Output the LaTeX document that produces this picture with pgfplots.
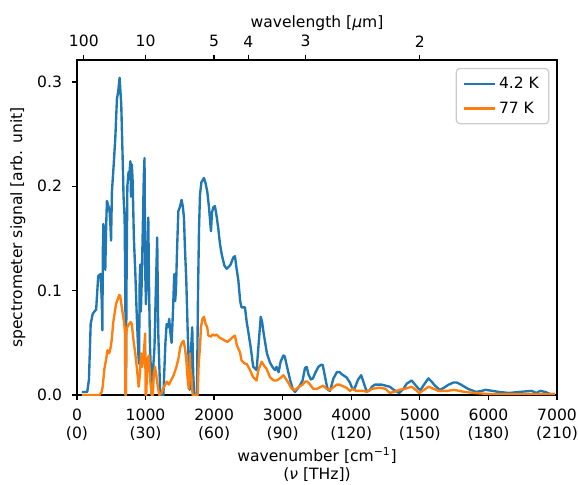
\documentclass[border=0pt]{standalone}
\usepackage{fontspec}
\setmainfont{DejaVu Sans}
\usepackage{pgfplots}
\pgfplotsset{compat=1.18}
\definecolor{c0}{HTML}{1F77B4}
\definecolor{c1}{HTML}{FF7F0E}
\definecolor{legframe}{HTML}{CCCCCC}

\begin{document}
\fontsize{11.2}{13.4}\selectfont
\begin{tikzpicture}
\begin{axis}[
  width=345.6pt, height=241.2pt, scale only axis,
  xmin=0, xmax=7000, ymin=0, ymax=0.321,
  xtick={0,1000,2000,3000,4000,5000,6000,7000},
  xticklabels={0\\(0),1000\\(30),2000\\(60),3000\\(90),4000\\(120),5000\\(150),6000\\(180),7000\\(210)},
  ticklabel style={font=\fontsize{11.2}{13}\selectfont},
  xticklabel style={align=center, yshift=-2pt},
  ytick={0,0.1,0.2,0.3}, yticklabels={0.0,0.1,0.2,0.3},
  yticklabel style={xshift=-3pt},
  xtick pos=bottom, ytick pos=left,
  tick align=outside, major tick length=3.9pt,
  every tick/.style={black, line width=0.9pt},
  axis line style={line width=0.9pt},
  minor tick num=0,
  xlabel={wavenumber [cm\textsuperscript{−1}]\\(\textit{ν} [THz])},
  every axis x label/.style={at={(axis description cs:0.5,-0.208)}, anchor=center,
    align=center, font=\fontsize{11.2}{13.2}\selectfont},
  ylabel={spectrometer signal [arb. unit]},
  every axis y label/.style={at={(axis description cs:-0.123,0.5)}, anchor=center, rotate=90,
    font=\fontsize{11.2}{13.4}\selectfont},
  legend cell align=left,
  legend style={at={(1,1)}, anchor=north east, xshift=-5.6pt, yshift=-5.6pt,
    draw=legframe, rounded corners=2.5pt, line width=0.9pt,
    font=\fontsize{11.2}{13.4}\selectfont, inner xsep=5pt, inner ysep=4pt,
    row sep=4pt},
  legend image code/.code={\draw[#1, line width=1.7pt] (0pt,0pt) -- (22pt,0pt);},
]
\coordinate (sw) at (rel axis cs:0,0);
\coordinate (ne) at (rel axis cs:1,1);
\addplot[c0, line width=1.7pt, line join=round] coordinates {
(70,0.003)(150,0.003)(175,0.015)(200,0.068)(230,0.078)(280,0.082)(310,0.114)(345,0.116)
(362,0.09)(370,0.062)(378,0.14)(385,0.164)(400,0.15)(413,0.12)(425,0.16)(437,0.186)
(455,0.182)(476,0.176)(490,0.16)(497,0.148)(510,0.195)(535,0.22)(559,0.246)(583,0.284)
(600,0.29)(622,0.304)(646,0.278)(665,0.23)(680,0.189)(695,0.17)(705,0.10)(714,0.0)
(722,0.10)(735,0.20)(753,0.214)(762,0.208)(778,0.224)(788,0.19)(800,0.221)(812,0.205)
(830,0.15)(850,0.119)(870,0.08)(895,0.04)(905,0.03)(915,0.11)(923,0.125)(932,0.08)
(945,0.11)(960,0.16)(975,0.21)(985,0.227)(995,0.12)(1006,0.087)(1020,0.12)(1040,0.17)
(1052,0.10)(1065,0.046)(1080,0.02)(1090,0.0)(1105,0.0)(1115,0.03)(1130,0.045)(1150,0.10)
(1170,0.151)(1185,0.06)(1200,0.03)(1215,0.0)(1260,0.0)(1290,0.05)(1308,0.068)(1330,0.065)
(1345,0.073)(1362,0.06)(1380,0.05)(1400,0.08)(1419,0.116)(1432,0.09)(1443,0.10)(1460,0.14)
(1478,0.176)(1500,0.18)(1526,0.187)(1545,0.18)(1560,0.17)(1575,0.14)(1594,0.11)(1615,0.06)
(1630,0.03)(1643,0.005)(1660,0.04)(1681,0.065)(1695,0.02)(1710,0.0)(1750,0.0)(1765,0.097)
(1780,0.16)(1794,0.192)(1815,0.204)(1852,0.208)(1875,0.203)(1900,0.195)(1925,0.18)(1940,0.168)
(1954,0.157)(1969,0.175)(1990,0.180)(2012,0.181)(2035,0.172)(2060,0.16)(2085,0.145)(2110,0.135)
(2150,0.124)(2183,0.121)(2215,0.123)(2240,0.125)(2280,0.132)(2304,0.133)(2330,0.12)(2353,0.11)
(2380,0.09)(2400,0.084)(2450,0.084)(2475,0.07)(2500,0.06)(2535,0.045)(2570,0.027)(2620,0.024)
(2650,0.05)(2680,0.075)(2700,0.07)(2720,0.060)(2770,0.04)(2815,0.031)(2860,0.026)(2890,0.024)
(2910,0.027)(2940,0.022)(2970,0.032)(3010,0.038)(3030,0.037)(3060,0.028)(3110,0.014)(3145,0.006)
(3180,0.003)(3240,0.008)(3290,0.014)(3325,0.026)(3350,0.027)(3375,0.02)(3410,0.015)(3440,0.016)
(3480,0.022)(3520,0.027)(3560,0.029)(3583,0.029)(3610,0.02)(3640,0.01)(3660,0.005)(3690,0.004)
(3740,0.016)(3790,0.022)(3830,0.022)(3860,0.02)(3930,0.017)(3980,0.012)(4010,0.007)(4040,0.005)
(4070,0.01)(4100,0.015)(4145,0.019)(4180,0.012)(4220,0.004)(4260,0.004)(4300,0.008)(4345,0.010)
(4400,0.010)(4440,0.010)(4500,0.009)(4560,0.008)(4620,0.005)(4700,0.002)(4760,0.006)(4810,0.011)
(4880,0.014)(4930,0.01)(4980,0.006)(5010,0.005)(5060,0.01)(5125,0.016)(5170,0.013)(5220,0.009)
(5290,0.005)(5350,0.007)(5420,0.010)(5490,0.012)(5537,0.012)(5600,0.010)(5700,0.006)(5820,0.003)
(5900,0.004)(5960,0.005)(6060,0.004)(6150,0.003)(6300,0.002)(6450,0.003)(6630,0.004)(6700,0.002)
(6752,0.004)(6830,0.003)(6900,0.001)(6970,0.001)
};
\addlegendentry{4.2 K}
\addplot[c1, line width=1.7pt, line join=round] coordinates {
(70,0.0)(200,0.0)(330,0.0)(360,0.003)(375,0.008)(400,0.025)(422,0.033)(445,0.043)
(470,0.040)(490,0.045)(505,0.052)(530,0.07)(569,0.087)(595,0.092)(617,0.096)(630,0.095)
(656,0.083)(675,0.075)(690,0.068)(700,0.06)(706,0.0)(712,0.0)(720,0.06)(733,0.065)
(760,0.068)(782,0.07)(800,0.068)(820,0.055)(850,0.040)(875,0.025)(900,0.008)(918,0.02)
(935,0.040)(950,0.027)(965,0.033)(985,0.05)(995,0.059)(1001,0.0)(1010,0.0)(1020,0.02)
(1035,0.035)(1050,0.038)(1070,0.013)(1090,0.0)(1105,0.0)(1120,0.02)(1138,0.027)(1155,0.02)
(1175,0.01)(1200,0.0)(1240,0.003)(1270,0.008)(1312,0.013)(1340,0.01)(1380,0.015)(1410,0.019)
(1450,0.027)(1480,0.035)(1507,0.046)(1530,0.05)(1555,0.052)(1575,0.045)(1595,0.033)(1615,0.015)
(1630,0.006)(1648,0.04)(1653,0.02)(1665,0.021)(1687,0.0)(1760,0.0)(1775,0.03)(1794,0.046)
(1808,0.065)(1830,0.073)(1852,0.075)(1876,0.068)(1900,0.065)(1915,0.057)(1954,0.056)(1980,0.058)
(2013,0.057)(2036,0.058)(2080,0.055)(2110,0.054)(2160,0.052)(2197,0.051)(2230,0.053)(2280,0.056)
(2304,0.057)(2330,0.048)(2377,0.041)(2400,0.033)(2450,0.030)(2474,0.030)(2523,0.024)(2570,0.017)
(2620,0.014)(2645,0.024)(2693,0.032)(2730,0.028)(2766,0.025)(2815,0.017)(2870,0.014)(2912,0.014)
(2960,0.016)(3010,0.019)(3050,0.015)(3090,0.011)(3130,0.006)(3180,0.005)(3240,0.008)(3290,0.010)
(3330,0.013)(3360,0.013)(3400,0.01)(3445,0.006)(3500,0.006)(3560,0.008)(3590,0.009)(3640,0.006)
(3690,0.005)(3730,0.007)(3787,0.010)(3830,0.01)(3860,0.009)(3930,0.007)(3980,0.004)(4020,0.006)
(4070,0.004)(4130,0.004)(4180,0.004)(4230,0.003)(4300,0.006)(4415,0.007)(4500,0.006)(4560,0.002)
(4620,0.003)(4700,0.005)(4780,0.006)(4880,0.008)(4940,0.005)(4990,0.002)(5060,0.005)(5130,0.008)
(5200,0.006)(5270,0.004)(5400,0.004)(5500,0.005)(5650,0.003)(5800,0.002)(6000,0.001)(6500,0.001)
(6970,0.001)
};
\addlegendentry{77 K}
\end{axis}
\begin{axis}[
  width=345.6pt, height=241.2pt, scale only axis,
  xmin=0, xmax=7000, ymin=0, ymax=0.321,
  axis x line*=top, axis y line=none,
  xtick={100,1000,2000,2500,3333.33,5000},
  xticklabels={100,10,5,4,3,2},
  xticklabel style={font=\fontsize{11.2}{13}\selectfont, yshift=1.5pt},
  tick align=outside, major tick length=3.9pt, minor tick num=0,
  every tick/.style={black, line width=0.9pt},
  axis line style={line width=0.9pt},
  xlabel={wavelength [\textit{µ}m]},
  every axis x label/.style={at={(axis description cs:0.5,1.11)}, anchor=center,
    font=\fontsize{11.2}{13.4}\selectfont},
]
\end{axis}
\pgfresetboundingbox
\path[use as bounding box] ([shift={(-55.4pt,-64.1pt)}]sw) rectangle ([shift={(15.1pt,43.2pt)}]ne);
\end{tikzpicture}
\end{document}
